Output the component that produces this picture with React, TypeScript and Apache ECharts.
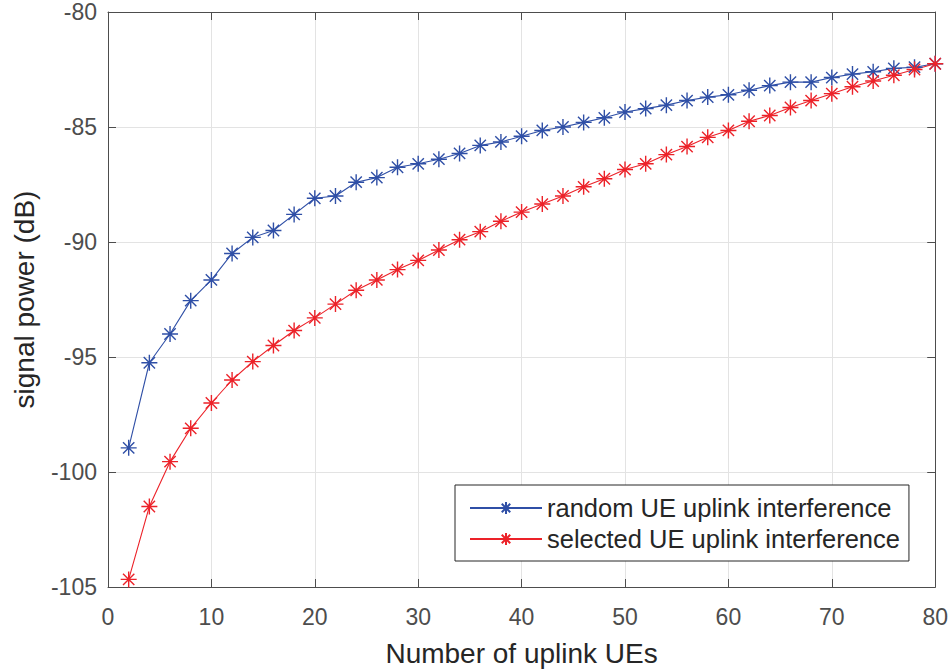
import React, { useEffect, useRef } from "react";
import * as echarts from "echarts";

const xValues = [2, 4, 6, 8, 10, 12, 14, 16, 18, 20, 22, 24, 26, 28, 30, 32, 34, 36, 38, 40, 42, 44, 46, 48, 50, 52, 54, 56, 58, 60, 62, 64, 66, 68, 70, 72, 74, 76, 78, 80];
const randomUE = [-98.95, -95.25, -94.0, -92.55, -91.65, -90.5, -89.8, -89.5, -88.8, -88.1, -88.0, -87.4, -87.2, -86.75, -86.6, -86.4, -86.15, -85.8, -85.65, -85.4, -85.15, -85.0, -84.8, -84.6, -84.35, -84.2, -84.05, -83.85, -83.7, -83.6, -83.4, -83.2, -83.05, -83.05, -82.85, -82.7, -82.6, -82.45, -82.4, -82.25];
const selectedUE = [-104.67, -101.5, -99.55, -98.1, -97.0, -96.0, -95.2, -94.5, -93.85, -93.3, -92.7, -92.1, -91.65, -91.2, -90.8, -90.35, -89.9, -89.55, -89.1, -88.7, -88.35, -88.0, -87.6, -87.25, -86.85, -86.6, -86.2, -85.85, -85.45, -85.15, -84.75, -84.5, -84.15, -83.85, -83.55, -83.25, -83.0, -82.75, -82.5, -82.25];
const seriesNames = ["random UE uplink interference", "selected UE uplink interference"];
const xAxisTitle = "Number of uplink UEs";
const yAxisTitle = "signal power (dB)";

const STAR = "path://M0,-10L0,10M-10,0L10,0M-7.07,-7.07L7.07,7.07M-7.07,7.07L7.07,-7.07";
const FONT = "'Liberation Sans', Arial, Helvetica, sans-serif";
const AXIS = "#262626";
const TICKC = "#4d4d4d";
const GRIDC = "#e3e3e3";

export default function App() {
  const ref = useRef<HTMLDivElement>(null);
  useEffect(() => {
    if (!ref.current) return;
    const chart = echarts.init(ref.current, null, { renderer: "svg" });
    const mk = (name: string, ys: number[], color: string) => ({
      name,
      type: "line",
      data: xValues.map((x, i) => [x, ys[i]]),
      symbol: STAR,
      symbolSize: 16,
      lineStyle: { color, width: 1.1 },
      itemStyle: { color, borderColor: color, borderWidth: 1.4 },
      emphasis: { disabled: true },
    });
    const axisCommon = {
      axisLine: { show: true, onZero: false, lineStyle: { color: TICKC, width: 1 } },
      axisTick: { show: true, inside: true, length: 8, lineStyle: { color: TICKC } },
    };
    chart.setOption({
      animation: false,
      backgroundColor: "#ffffff",
      textStyle: { fontFamily: FONT },
      grid: { left: 108, right: 14, top: 12, bottom: 85, containLabel: false },
      xAxis: [
        {
          type: "value", min: 0, max: 80, interval: 10, position: "bottom",
          ...axisCommon,
          axisLabel: { color: TICKC, fontSize: 23, margin: 18, fontFamily: FONT },
          splitLine: { show: true, lineStyle: { color: GRIDC, width: 1 } },
          name: xAxisTitle, nameLocation: "middle", nameGap: 52,
          nameTextStyle: { color: AXIS, fontSize: 28, fontFamily: FONT },
        },
        {
          type: "value", min: 0, max: 80, interval: 10, position: "top",
          ...axisCommon,
          axisLabel: { show: false },
          splitLine: { show: false },
        },
      ],
      yAxis: [
        {
          type: "value", min: -105, max: -80, interval: 5, position: "left",
          ...axisCommon,
          axisLabel: { color: TICKC, fontSize: 23, margin: 11, fontFamily: FONT },
          splitLine: { show: true, lineStyle: { color: GRIDC, width: 1 } },
          name: yAxisTitle, nameLocation: "middle", nameGap: 70,
          nameTextStyle: { color: AXIS, fontSize: 28, fontFamily: FONT },
        },
        {
          type: "value", min: -105, max: -80, interval: 5, position: "right",
          ...axisCommon,
          axisLabel: { show: false },
          splitLine: { show: false },
        },
      ],
      legend: {
        data: seriesNames,
        orient: "vertical",
        left: 455,
        top: 485,
        padding: [10, 9, 9, 14],
        itemGap: 5,
        itemWidth: 72,
        itemHeight: 15,
        backgroundColor: "#ffffff",
        borderColor: AXIS,
        borderWidth: 1,
        textStyle: { color: AXIS, fontSize: 25.5, fontFamily: FONT, lineHeight: 26 },
      },
      series: [
        mk(seriesNames[0], randomUE, "#2f4fa6"),
        mk(seriesNames[1], selectedUE, "#ec2229"),
      ],
    });
    return () => chart.dispose();
  }, []);
  return <div ref={ref} style={{ position: "absolute", left: 0, top: 0, width: 951, height: 672 }} />;
}
